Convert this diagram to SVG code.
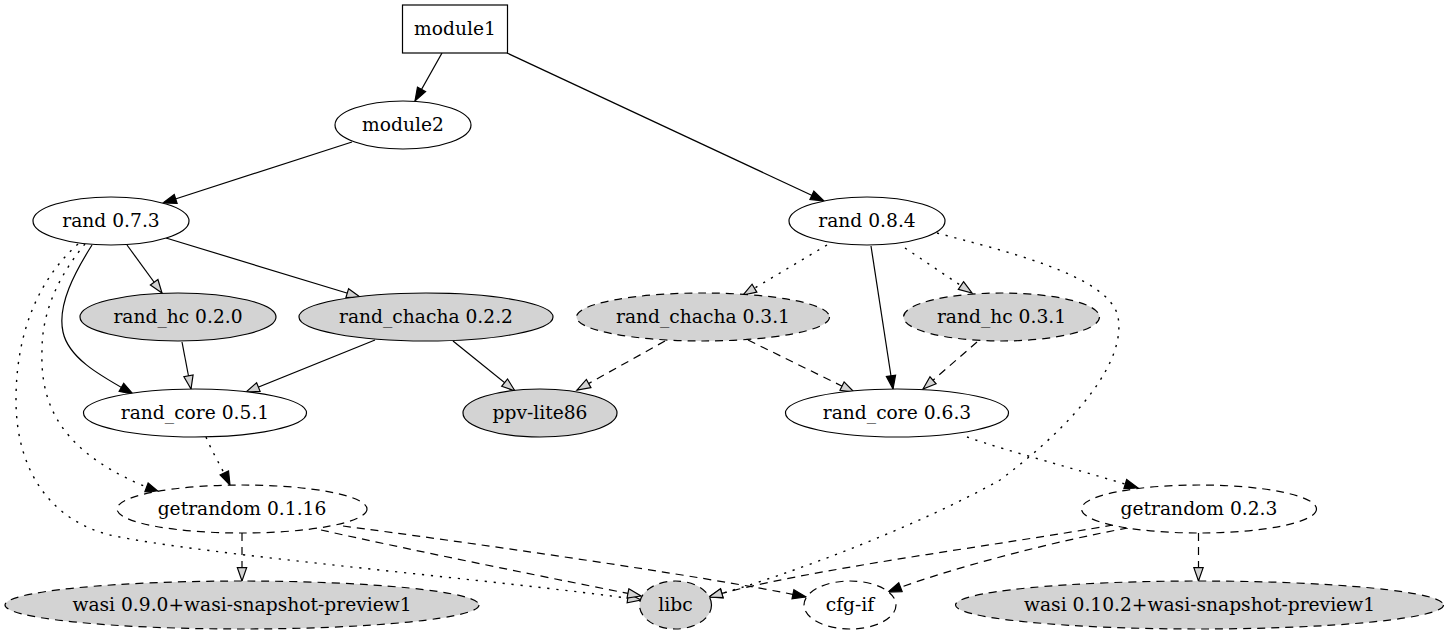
<svg xmlns="http://www.w3.org/2000/svg" width="1449" height="635" viewBox="0 0 1449 635">
<style>
  .n { stroke: #000; stroke-width: 1.2; fill: #fff; }
  .g { fill: #d3d3d3; }
  .d { stroke-dasharray: 8,6; }
  text { font-family: "DejaVu Serif", serif; font-size: 18.67px; text-anchor: middle; fill: #000; }
  .e { fill: none; stroke: #000; stroke-width: 1.2; }
  .ed { stroke-dasharray: 8,6; }
  .eo { stroke-dasharray: 2.2,6.8; stroke-width: 1.4; }
  .f { marker-end: url(#af); }
  .o { marker-end: url(#ao); }
</style>
<defs>
  <marker id="af" markerWidth="14" markerHeight="10" refX="13.33" refY="4.67" orient="auto" markerUnits="userSpaceOnUse" overflow="visible">
    <path d="M0,0 L13.33,4.67 L0,9.33 Z" fill="#000" stroke="#000" stroke-width="1.2"/>
  </marker>
  <marker id="ao" markerWidth="14" markerHeight="10" refX="13.33" refY="4.67" orient="auto" markerUnits="userSpaceOnUse" overflow="visible">
    <path d="M0,0 L13.33,4.67 L0,9.33 Z" fill="#d3d3d3" stroke="#000" stroke-width="1.2"/>
  </marker>
</defs>
<rect width="1449" height="635" fill="#fff"/>
<g id="connectors">
  <path class="e f" d="M442,53 L415,101"/>
  <path class="e f" d="M507,53 L824,201"/>
  <path class="e f" d="M352,142 L163,203"/>
  <path class="e o" d="M127,245 L162,293"/>
  <path class="e o" d="M166,238 L360,297"/>
  <path class="e f" d="M92,245 C75,272 57,305 63,332 C69,360 105,378 133,394"/>
  <path class="e eo f" d="M85,244 C65,268 42,305 42,350 C40,405 60,455 159,492"/>
  <path class="e eo o" d="M78,244 C40,278 16,330 16,400 C16,470 50,520 110,535 C200,555 500,580 641,600"/>
  <path class="e o" d="M182,342 L191,389"/>
  <path class="e o" d="M375,340 L246,392"/>
  <path class="e o" d="M453,341 L515,391"/>
  <path class="e eo f" d="M206,437 C212,452 222,468 230,485"/>
  <path class="e ed o" d="M242,533 L242,581"/>
  <path class="e ed o" d="M321,530 C420,552 560,580 641,596"/>
  <path class="e ed f" d="M343,526 C450,540 700,575 806,597"/>
  <path class="e eo o" d="M827,245 L743,295"/>
  <path class="e f" d="M871,246 L893,389"/>
  <path class="e eo o" d="M905,248 L972,293"/>
  <path class="e eo o" d="M937,233 C1000,250 1110,275 1118,317 C1126,360 1080,420 1000,480 C920,525 790,575 709,597"/>
  <path class="e ed o" d="M665,341 L577,390"/>
  <path class="e ed o" d="M748,340 L854,392"/>
  <path class="e ed o" d="M977,342 L923,389"/>
  <path class="e eo f" d="M967,437 C1010,452 1080,470 1138,488"/>
  <path class="e ed o" d="M1113,525 C1000,545 800,570 709,597"/>
  <path class="e ed f" d="M1128,528 C1060,540 950,568 888,592"/>
  <path class="e ed o" d="M1198.5,533 L1198.5,581"/>
</g>
<g id="module1"><rect class="n" x="402.5" y="5" width="105" height="48"/><text x="455" y="35">module1</text></g>
<g id="module2"><ellipse class="n" cx="403" cy="125" rx="68" ry="24"/><text x="403" y="131">module2</text></g>
<g id="rand_0_7_3"><ellipse class="n" cx="111" cy="221" rx="78" ry="24"/><text x="111" y="227">rand 0.7.3</text></g>
<g id="rand_0_8_4"><ellipse class="n" cx="867" cy="221" rx="78" ry="24"/><text x="867" y="227">rand 0.8.4</text></g>
<g id="rand_hc_0_2_0"><ellipse class="n g" cx="178" cy="317" rx="98" ry="24"/><text x="178" y="323">rand_hc 0.2.0</text></g>
<g id="rand_chacha_0_2_2"><ellipse class="n g" cx="426" cy="317" rx="127" ry="24"/><text x="426" y="323">rand_chacha 0.2.2</text></g>
<g id="rand_chacha_0_3_1"><ellipse class="n g d" cx="703" cy="317" rx="126.5" ry="24"/><text x="703" y="323">rand_chacha 0.3.1</text></g>
<g id="rand_hc_0_3_1"><ellipse class="n g d" cx="1001.5" cy="317" rx="98" ry="24"/><text x="1001.5" y="323">rand_hc 0.3.1</text></g>
<g id="rand_core_0_5_1"><ellipse class="n" cx="195" cy="413" rx="111.5" ry="24"/><text x="195" y="419">rand_core 0.5.1</text></g>
<g id="ppv_lite86"><ellipse class="n g" cx="540" cy="413" rx="77" ry="24"/><text x="540" y="419">ppv-lite86</text></g>
<g id="rand_core_0_6_3"><ellipse class="n" cx="897" cy="413" rx="111.5" ry="24"/><text x="897" y="419">rand_core 0.6.3</text></g>
<g id="getrandom_0_1_16"><ellipse class="n d" cx="242" cy="509" rx="125" ry="24"/><text x="242" y="515">getrandom 0.1.16</text></g>
<g id="getrandom_0_2_3"><ellipse class="n d" cx="1199" cy="509" rx="117.5" ry="24"/><text x="1199" y="515">getrandom 0.2.3</text></g>
<g id="wasi_0_9_0"><ellipse class="n g d" cx="242" cy="605" rx="237" ry="24"/><text x="242" y="611">wasi 0.9.0+wasi-snapshot-preview1</text></g>
<g id="libc"><ellipse class="n g d" cx="675.5" cy="605" rx="36" ry="24"/><text x="675.5" y="611">libc</text></g>
<g id="cfg_if"><ellipse class="n d" cx="850" cy="605" rx="46" ry="24"/><text x="850" y="611">cfg-if</text></g>
<g id="wasi_0_10_2"><ellipse class="n g d" cx="1199.5" cy="605" rx="244" ry="24"/><text x="1199.5" y="611">wasi 0.10.2+wasi-snapshot-preview1</text></g>
</svg>
